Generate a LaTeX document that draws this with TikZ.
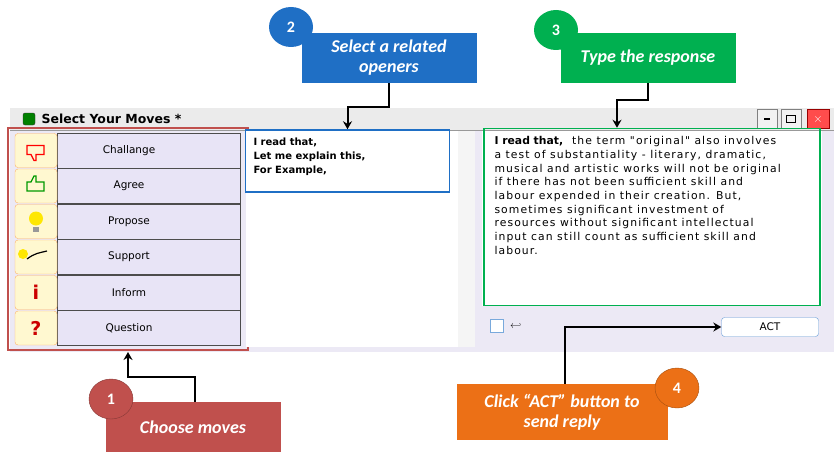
\documentclass[tikz,border=0pt]{standalone}
\usepackage{fontspec}
\setmainfont{DejaVu Sans}
\newfontfamily\calfont{Carlito}
\newfontfamily\wideface[LetterSpace=10]{DejaVu Sans}
\usetikzlibrary{positioning}
\definecolor{winbg}{RGB}{236,233,245}
\definecolor{btnbg}{RGB}{232,228,246}
\definecolor{iconbg}{RGB}{255,248,208}
\definecolor{stepblue}{RGB}{31,111,197}
\definecolor{stepgreen}{RGB}{0,176,80}
\definecolor{stepred}{RGB}{192,80,77}
\definecolor{steporange}{RGB}{236,112,22}
\tikzset{
  movebtn/.style={draw=black!70, fill=btnbg, minimum width=183, minimum height=35, inner sep=0, font=\fontsize{10.5}{11}\selectfont},
  iconbox/.style={draw=orange!60, fill=iconbg, rounded corners=3, minimum width=42, minimum height=34, inner sep=0},
  stepbox/.style={minimum width=175, minimum height=50, text=white, align=center, font=\calfont\bfseries\itshape\fontsize{18}{20}\selectfont},
  stepnum/.style={ellipse, minimum width=44, minimum height=40, text=white, font=\calfont\bfseries\fontsize{16}{16}\selectfont},
  callarrow/.style={line width=2, -{Stealth[length=8,width=9]}}
}
\usetikzlibrary{shapes.geometric,arrows.meta}
\begin{document}
\begin{tikzpicture}[x=1pt,y=-1pt]
\useasboundingbox (0,0) rectangle (834,460);

% window frame
\fill[winbg] (10,108) rectangle (834,352);
\fill[black!8] (10,108) rectangle (834,130);
\draw[black!40] (10,130) -- (834,130);
\node[draw=black!80, fill=green!50!black, rounded corners=2, minimum size=12, inner sep=0] (logo) at (29,119) {};
\node[anchor=west, font=\bfseries\fontsize{12.5}{14}\selectfont] (title) at (38,119) {Select Your Moves *};
\node[draw=black!50, fill=black!5, minimum width=20, minimum height=19, inner sep=0] (minbtn) at (767,119) {\rule{6pt}{1.5pt}};
\node[draw=black!50, fill=black!5, minimum width=20, minimum height=19, inner sep=0] (maxbtn) at (791,119) {\tikz\draw[line width=1] (0,0) rectangle (9,7);};
\node[draw=red!60!black, fill=red!70, minimum width=22, minimum height=19, inner sep=0, text=white, font=\bfseries\large] (closebtn) at (818,119) {$\times$};

% move buttons
\foreach \lbl/\n [count=\i] in {Challange/chal, Agree/agree, Propose/prop, Support/supp, Inform/info, Question/ques}{
  \node[movebtn] (\n) at (149,115+35.5*\i) {\hspace*{-40pt}\lbl};
  \node[iconbox] (\n icon) at (36,115+35.5*\i) {};
}
\draw[red, line width=1.2] (chalicon.center) ++(-9,-5) -- ++(0,9) -- ++(4,0) -- ++(3,6) -- ++(2,0) -- ++(0,-6) -- ++(8,0) -- ++(0,-9) -- cycle;
\draw[green!60!black, line width=1.2] (agreeicon.center) ++(-9,5) -- ++(0,-9) -- ++(4,0) -- ++(3,-6) -- ++(2,0) -- ++(0,6) -- ++(8,0) -- ++(0,9) -- cycle;
\fill[yellow!90!orange] (propicon.center) ++(0,-3) circle (7);
\fill[black!40] (propicon.center) ++(-3,5) rectangle ++(6,5);
\fill[yellow!90!orange] (suppicon.center) ++(-13,-3) circle (5);
\draw[line width=1.2] (suppicon.center) ++(-9,2) .. controls ++(8,-6) and ++(-8,2) .. ++(20,-8);
\node[text=red!80!black, font=\bfseries\fontsize{19}{19}\selectfont] (infosym) at (infoicon) {i};
\node[text=red!80!black, font=\bfseries\fontsize{19}{19}\selectfont] (quessym) at (quesicon) {?};
\draw[stepred, line width=1.5] (8,128) rectangle (248,350);

% openers panel
\fill[white] (246,131) rectangle (475,347);
\fill[black!4] (458,131) rectangle (475,347);
\node[draw=stepblue, line width=1.5, minimum width=204, minimum height=62, inner sep=0] (openers) at (347.5,161) {};
\node[anchor=north west, align=left, font=\bfseries\fontsize{10}{14}\selectfont] (openerstxt) at (250,134) {I read that,\\Let me explain this,\\For Example,};

% response panel
\fill[white] (482,131) rectangle (822,306);
\node[draw=stepgreen, line width=1.5, minimum width=336, minimum height=177, inner sep=0] (reply) at (652,217) {};
\node[anchor=north west, align=left, font=\wideface\fontsize{10.8}{13.7}\selectfont] (replytxt) at (491,133) {{\normalfont\bfseries\fontsize{10.8}{13.7}\selectfont I read that,}\ \ the term \symbol{34}original\symbol{34} also involves\\a test of substantiality - literary, dramatic,\\musical and artistic works will not be original\\if there has not been sufficient skill and\\labour expended in their creation. But,\\sometimes significant investment of\\resources without significant intellectual\\input can still count as sufficient skill and\\labour.};
\node[draw=stepblue!60, fill=white, minimum size=13, inner sep=0] (enterbox) at (497,326) {};
\node[right=3pt of enterbox, font=\fontsize{10}{10}\selectfont] (entersym) {$\hookleftarrow$};
\node[draw=stepblue!70, fill=white, rounded corners=3, minimum width=97, minimum height=19, inner sep=0, font=\fontsize{10.5}{11}\selectfont] (act) at (770,327) {ACT};

% step callouts
\node[stepbox, fill=stepblue] (opensel) at (389,58) {Select a related\\openers};
\node[stepnum, fill=stepblue] (num2) at (291,27) {2};
\node[stepbox, fill=stepgreen] (typeresp) at (648,58) {Type the response};
\node[stepnum, fill=stepgreen] (num3) at (556,30) {3};
\node[stepbox, fill=stepred] (choose) at (193,427) {Choose moves};
\node[stepnum, fill=stepred, draw=stepred!70!black] (num1) at (111,399) {1};
\node[stepbox, fill=steporange, minimum width=211, minimum height=56] (clickact) at (562,412) {Click “ACT” button to\\send reply};
\node[stepnum, fill=steporange, draw=steporange!70!black] (num4) at (677,388) {4};

% connectors
\coordinate (c2) at (opensel.south |- 0,107);
\coordinate (c3) at (typeresp.south |- 0,100);
\coordinate (c1) at (195,377);
\coordinate (c4) at (565,327);
\draw[callarrow] (opensel.south) -- (c2) -| (openers.north);
\draw[callarrow] (typeresp.south) -- (c3) -| (reply.north -| 617,0);
\draw[callarrow] (choose.north -| c1) -- (c1) -| (128,352);
\draw[callarrow] (clickact.north -| c4) -- (c4) -- (act.west);
\end{tikzpicture}
\end{document}
